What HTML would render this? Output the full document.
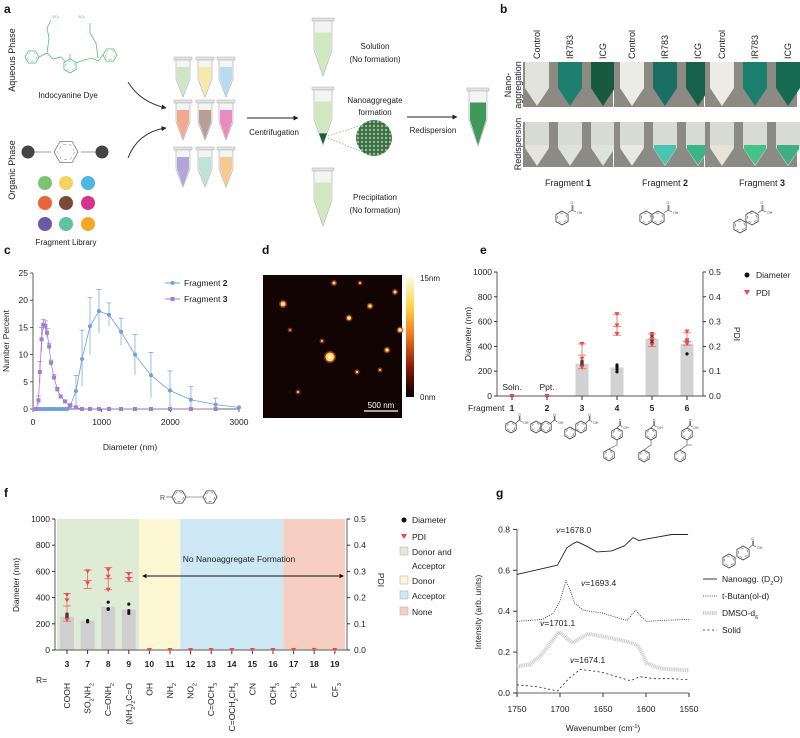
<!DOCTYPE html>
<html><head><meta charset="utf-8"><style>
html,body{margin:0;padding:0;background:#fff}
svg{display:block;font-family:"Liberation Sans",Arial,sans-serif}
</style></head><body>
<svg id="fig" xmlns="http://www.w3.org/2000/svg" width="800" height="738" viewBox="0 0 800 738">
<defs>
<marker id="ah" viewBox="0 0 10 10" refX="9" refY="5" markerWidth="5" markerHeight="5" orient="auto"><path d="M0,0L10,5L0,10z" fill="#222"/></marker>
<marker id="ahs" viewBox="0 0 10 10" refX="1" refY="5" markerWidth="5" markerHeight="5" orient="auto-start-reverse"><path d="M0,0L10,5L0,10z" fill="#111"/></marker>
<linearGradient id="cbar" x1="0" y1="0" x2="0" y2="1"><stop offset="0" stop-color="#fffbe0"/><stop offset="0.25" stop-color="#ffd24a"/><stop offset="0.5" stop-color="#e8741c"/><stop offset="0.75" stop-color="#8a1a08"/><stop offset="1" stop-color="#000"/></linearGradient>
<pattern id="hex" width="4" height="4" patternUnits="userSpaceOnUse"><rect width="4" height="4" fill="#3e6e48"/><circle cx="2" cy="2" r="1.2" fill="#8fbf92"/></pattern>
</defs>
<g id="panels"></g>
</svg>
<script>
// ---------- Panel c data ----------
const c2X=[20,50,80,110,140,170,200,230,260,290,320,350,380,410,440,470,500,539,626,714,830,961,1107,1282,1485,1718,1995,2300,2660,3000];
const c2Y=[0,0,0,0,0,0,0,0,0,0,0,0,0,0,0,0,0,0.5,3.3,9.2,15.2,18,17.3,14.2,10,6.2,3.4,1.7,0.8,0.3];
const c2Hi=[0,0,0,0,0,0,0,0,0,0,0,0,0,0,0,0,0,0.8,6.2,14.5,20.5,22,19.5,16.7,13.7,10.4,7,4.1,2,0.3];
const c2Lo=[0,0,0,0,0,0,0,0,0,0,0,0,0,0,0,0,0,0.2,0.4,4.2,10,14,15.2,11.7,6.3,2,0,0,0,0.3];
const c3X=[20,45,80,100,125,150,180,205,235,262,306,354,403,466,539,626,714,830,961,1107,1282,1485,1718,1995,2300,2660];
const c3Y=[0,0,1.6,6.8,12.8,15.5,15.3,14,11.5,8.5,5.8,3.6,2.3,1.4,0.7,0.3,0,0,0,0,0,0,0,0,0,0];
const c3Err=[0,0,0.8,1.9,2.2,1,0.9,0.8,0.6,0.5,0.5,0.4,0.3,0.2,0.2,0.1,0,0,0,0,0,0,0,0,0,0];
const cXTicks=[0,1000,2000,3000];
const cYTicks=[0,5,10,15,20,25];
// ---------- Panel e data ----------
const eFrag=["1","2","3","4","5","6"];
const eDiam=[0,0,260,230,460,420];
const eDiamPts=[[0],[0],[245,260,270,280],[195,215,235,250],[430,450,470,490],[340,430,450]];
const ePdiMean=[0,0,0.165,0.28,0.23,0.22];
const ePdiHi=[0,0,0.21,0.33,0.25,0.255];
const ePdiLo=[0,0,0.11,0.245,0.2,0.205];
const ePdiPts=[[0],[0],[0.21,0.15,0.115],[0.33,0.285,0.25],[0.25,0.23,0.205],[0.26,0.225,0.21]];
const eLeftTicks=[0,200,400,600,800,1000];
const eRightTicks=["0.0","0.1","0.2","0.3","0.4","0.5"];
// ---------- Panel f data ----------
const fNum=["3","7","8","9","10","11","12","13","14","15","16","17","18","19"];
const fR=["COOH","SO₂NH₂","C=ONH₂","(NH₂)₂C=O","OH","NH₂","NO₂","C=OCH₃","C=OCH₂CH₃","CN","OCH₃","CH₃","F","CF₃"];
const fDiam=[255,225,330,310,0,0,0,0,0,0,0,0,0,0];
const fDiamPts=[[240,255,265,275],[215,225],[310,315,365],[280,300,350],[],[],[],[],[],[],[],[],[],[]];
const fPdiMean=[0.168,0.265,0.272,0.277,0,0,0,0,0,0,0,0,0,0];
const fPdiHi=[0.215,0.305,0.315,0.295,0,0,0,0,0,0,0,0,0,0];
const fPdiLo=[0.11,0.235,0.23,0.262,0,0,0,0,0,0,0,0,0,0];
const fPdiPts=[[0.21,0.19,0.115],[0.3,0.255],[0.305,0.28,0.23],[0.29,0.27],[0],[0],[0],[0],[0],[0],[0],[0],[0],[0]];
const fRegionStart=[-0.5,3.5,5.5,10.5];
const fRegionEnd=[3.5,5.5,10.5,13.5];
const fRegionColor=["#deecd6","#fdf7d4","#cde8f4","#f6cfc2"];
const fLeftTicks=[0,200,400,600,800,1000];
const fRightTicks=["0.0","0.1","0.2","0.3","0.4","0.5"];
// ---------- Panel g data ----------
const gNanoW=[1750,1703,1692,1685,1680,1670,1657,1640,1625,1615,1608,1603,1590,1570,1551];
const gNanoI=[0.58,0.625,0.71,0.73,0.74,0.72,0.69,0.695,0.72,0.76,0.745,0.75,0.76,0.775,0.775];
const gButW=[1750,1720,1708,1700,1693,1688,1683,1673,1650,1635,1622,1612,1605,1599,1580,1550];
const gButI=[0.35,0.36,0.39,0.45,0.55,0.5,0.44,0.405,0.39,0.37,0.355,0.405,0.37,0.35,0.355,0.36];
const gDmsoW=[1750,1735,1723,1710,1701,1693,1685,1676,1667,1655,1642,1625,1610,1604,1599,1584,1550];
const gDmsoI=[0.13,0.14,0.18,0.25,0.30,0.27,0.245,0.27,0.29,0.28,0.27,0.255,0.235,0.19,0.145,0.12,0.11];
const gSolidW=[1750,1725,1703,1690,1677,1665,1650,1630,1618,1607,1590,1570,1550];
const gSolidI=[0.04,0.03,0.01,0.07,0.115,0.11,0.1,0.075,0.06,0.08,0.07,0.07,0.065];
const gXTicks=[1750,1700,1650,1600,1550];
const gYTicks=["0.0","0.2","0.4","0.6","0.8"];

const NS="http://www.w3.org/2000/svg";
const root=document.getElementById('panels');
function mk(tag,attrs,parent){const e=document.createElementNS(NS,tag);for(const k in attrs)e.setAttribute(k,attrs[k]);(parent||root).appendChild(e);return e;}
function tx(x,y,s,attrs,parent){const e=mk('text',Object.assign({x:x,y:y,'font-size':9,fill:'#222'},attrs||{}),parent);e.textContent=s;return e;}
function tspanSub(el,parts){el.textContent='';parts.forEach(p=>{const t=document.createElementNS(NS,'tspan');t.textContent=p[0];if(p[1]){t.setAttribute('font-size','6');t.setAttribute('dy','2');}else if(el._sub){t.setAttribute('dy','-2');}el._sub=!!p[1];el.appendChild(t);});}
function hexPath(cx,cy,r,rot){let d='';for(let i=0;i<6;i++){const a=(rot||0)+Math.PI/3*i;d+=(i?'L':'M')+(cx+r*Math.cos(a)).toFixed(1)+','+(cy+r*Math.sin(a)).toFixed(1);}return d+'Z';}
function ring(g,cx,cy,r,col,rot){mk('path',{d:hexPath(cx,cy,r,rot===undefined?Math.PI/6:rot),fill:'none',stroke:col||'#444','stroke-width':0.8},g);mk('path',{d:hexPath(cx,cy,r*0.72,rot===undefined?Math.PI/6:rot),fill:'none',stroke:col||'#444','stroke-width':0.5,'stroke-dasharray':'3 3'},g);}
function cooh(g,x,y,s){s=s||1;mk('path',{d:`M${x},${y}l${4*s},-3 M${x+4*s},${y-3}v${-5*s} M${x+5*s},${y-3}v${-5*s} M${x+4*s},${y-3}l${4*s},2`,stroke:'#444','stroke-width':0.6,fill:'none'},g);tx(x+9*s,y+1,'OH',{'font-size':3.5,fill:'#444'},g);tx(x+2.5*s,y-9*s,'O',{'font-size':3.5,fill:'#444'},g);}
function label(x,y,s,name){const t=tx(x,y,s,{'font-size':12,'font-weight':'bold',fill:'#111'});}

// ---------- Panel labels ----------
label(4,13,'a','panel-a-label');label(500,13,'b','panel-b-label');label(4,254,'c','panel-c-label');
label(262,254,'d','panel-d-label');label(480,254,'e','panel-e-label');label(4,497,'f','panel-f-label');label(496,497,'g','panel-g-label');

// ---------- Panel a ----------
(function(){
const g=mk('g',{});
let t=tx(0,0,'Aqueous Phase',{'font-size':9,'text-anchor':'middle',transform:'translate(15,60) rotate(-90)'},g);
t=tx(0,0,'Organic Phase',{'font-size':9,'text-anchor':'middle',transform:'translate(15,170) rotate(-90)'},g);
// dye
const gc='#5fb887';
const dye=mk('g',{},g);
ring(dye,32,57,7,gc,0);ring(dye,110,55,7,gc,0);ring(dye,70,66,7,gc,Math.PI/6);
mk('path',{d:'M39,57 l8,-4 l6,6 l8,-2 l4,4 M76,63 l8,-3 l8,-2 l6,3 l5,-6 M47,53 l2,-15 l-2,-10 l4,-8 M98,58 l-2,-15 l-6,-10 l0,-10 M70,59v-5',stroke:gc,'stroke-width':0.8,fill:'none'},dye);
tx(52,18,'SO₃',{'font-size':4,fill:gc},dye);tx(78,18,'SO₃',{'font-size':4,fill:gc},dye);
t=tx(68,98,'Indocyanine Dye',{'font-size':8,'text-anchor':'middle'},g);
// fragment
mk('line',{x1:28,y1:152,x2:102,y2:152,stroke:'#777','stroke-width':0.8},g);
mk('rect',{x:51,y:140,width:30,height:24,fill:'#fff'},g);ring(g,66,152,12,'#777',0);
mk('circle',{cx:28,cy:152,r:6.5,fill:'#444'},g);mk('circle',{cx:102,cy:152,r:6.5,fill:'#444'},g);
const dc=[['#7cc474','#f4d35e','#4cb8df'],['#e8643c','#7b4a36','#d6338a'],['#6a5aa8','#5cc4a0','#f5a623']];
const dx=[45,66,88],dy=[183,203,224];
for(let r=0;r<3;r++)for(let c=0;c<3;c++){const e=mk('circle',{cx:dx[c],cy:dy[r],r:7,fill:dc[r][c]},g);}
tx(66,245,'Fragment Library',{'font-size':8,'text-anchor':'middle'},g);
// curved arrows
mk('path',{d:'M128,82 Q140,102 166,108',stroke:'#333','stroke-width':1,fill:'none','marker-end':'url(#ah)'},g);
mk('path',{d:'M128,158 Q138,132 166,128',stroke:'#333','stroke-width':1,fill:'none','marker-end':'url(#ah)'},g);
function tube(x,y,w,h,col,pellet,name){const tg=mk('g',{},g);
mk('rect',{x:x-w/2-2,y:y,width:w+4,height:3,fill:'#e4e4e4',stroke:'#aaa','stroke-width':0.5},tg);
mk('path',{d:`M${x-w/2},${y+3}V${y+h*0.55}L${x},${y+h}L${x+w/2},${y+h*0.55}V${y+3}Z`,fill:'#f4f4f4',stroke:'#aaa','stroke-width':0.6},tg);
mk('path',{d:`M${x-w/2+1},${y+h*0.25}V${y+h*0.55}L${x},${y+h-1}L${x+w/2-1},${y+h*0.55}V${y+h*0.25}Z`,fill:col},tg);
if(pellet)mk('path',{d:`M${x-w*0.22},${y+h*0.8}L${x},${y+h-1}L${x+w*0.22},${y+h*0.8}Z`,fill:pellet},tg);}
const tcol=[['#cfe6c4','#f6eaa8','#b7dcef'],['#f3a890','#b5a097','#e88cc0'],['#b3a5dc','#bfe3d6','#f8c98e']];
const tx3=[183,205,226],ty3=[57,100,147];
for(let r=0;r<3;r++)for(let c=0;c<3;c++)tube(tx3[c],ty3[r],14,40,tcol[r][c],null,'library-tube');
mk('line',{x1:247,y1:118,x2:298,y2:118,stroke:'#222','stroke-width':1,'marker-end':'url(#ah)'},g);
tx(274,135,'Centrifugation',{'font-size':8,'text-anchor':'middle'},g);
tube(323,18,18,58,'#cfe8c0',null,'solution-tube');tube(323,87,18,58,'#cfe8c0','#1d5a44','nanoaggregate-tube');tube(323,168,18,58,'#cfe8c0',null,'precipitation-tube');
tx(375,49,'Solution',{'font-size':8,'text-anchor':'middle'},g);tx(375,62,'(No formation)',{'font-size':8,'text-anchor':'middle'},g);
tx(375,103,'Nanoaggregate',{'font-size':8,'text-anchor':'middle'},g);tx(375,115,'formation',{'font-size':8,'text-anchor':'middle'},g);
tx(375,200,'Precipitation',{'font-size':8,'text-anchor':'middle'},g);tx(375,213,'(No formation)',{'font-size':8,'text-anchor':'middle'},g);
mk('path',{d:'M328,136 L362,125 M328,138 L362,152',stroke:'#5a9a5a','stroke-width':0.6,'stroke-dasharray':'1.5 1.5',fill:'none'},g);
const ci=mk('circle',{cx:374,cy:138,r:18,fill:'url(#hex)'},g);
mk('line',{x1:407,y1:117,x2:457,y2:117,stroke:'#222','stroke-width':1,'marker-end':'url(#ah)'},g);
tx(433,133,'Redispersion',{'font-size':8,'text-anchor':'middle'},g);
tube(478,88,18,58,'#3f9a5a',null,'redispersed-tube');
})();

// ---------- Panel b ----------
(function(){
const g=mk('g',{});
const cols=['Control','IR783','ICG'];const cx=[[537,570,603],[632,665,698],[722,755,788]];
for(let gi=0;gi<3;gi++)for(let k=0;k<3;k++){const t=tx(0,0,cols[k],{'font-size':9,transform:`translate(${cx[gi][k]+3},59) rotate(-90)`},g);}
tx(0,0,'Nano-',{'font-size':9,'text-anchor':'middle',transform:'translate(511,85) rotate(-90)'},g);
tx(0,0,'aggregation',{'font-size':9,'text-anchor':'middle',transform:'translate(521,85) rotate(-90)'},g);
tx(0,0,'Redispersion',{'font-size':9,'text-anchor':'middle',transform:'translate(521,144) rotate(-90)'},g);
const top=[['#e2e2dc','#1e7f6e','#185a40'],['#ecece6','#1a6e62','#17604a'],['#ecebe6','#1a7f6c','#176a52']];
const bot=[[['#e4e4dc','#dfe2d8','#dde3d6']],[['#e8e8e2','#48c4b0','#3ab58a']],[['#e8e2da','#44c28a','#40ae84']]];
const gx=[523,614,705],gw=[90,90,92];
for(let gi=0;gi<3;gi++){
 mk('rect',{x:gx[gi],y:62,width:gw[gi],height:45,fill:'#8c8a82'},g);
 mk('rect',{x:gx[gi],y:122,width:gw[gi],height:45,fill:'#8c8a84'},g);
 for(let k=0;k<3;k++){const x=cx[gi][k];
  mk('path',{d:`M${x-12},62V88L${x},106L${x+12},88V62Z`,fill:top[gi][k]},g);
  mk('path',{d:`M${x-12},122V148L${x},166L${x+12},148V122Z`,fill:'#d8dbd4'},g);
  mk('path',{d:`M${x-11},145V149L${x},165L${x+11},149V145Z`,fill:bot[gi][0][k]},g);}
}
const fl=[568,665,762];
for(let i=0;i<3;i++){const t=tx(fl[i],186,'Fragment ',{'font-size':9,'text-anchor':'middle'},g);const b=document.createElementNS(NS,'tspan');b.setAttribute('font-weight','bold');b.textContent=String(i+1);t.appendChild(b);}
ring(g,562,218,7,'#444');cooh(g,568,213);
ring(g,646,218,7,'#444');ring(g,658,218,7,'#444');cooh(g,664,213);
ring(g,740,226,7,'#444');ring(g,752,218,7,'#444');cooh(g,758,213);
})();

// ---------- Panel c ----------
(function(){
const g=mk('g',{});
const xc=v=>33+v/3000*206, yc=v=>409-v*5.44;
mk('line',{x1:xc(0),y1:yc(0),x2:xc(3000),y2:yc(0),stroke:'#333','stroke-width':0.8},g);
mk('line',{x1:xc(0),y1:yc(0),x2:xc(0),y2:yc(25),stroke:'#333','stroke-width':0.8},g);
cXTicks.forEach(v=>{mk('line',{x1:xc(v),y1:409,x2:xc(v),y2:412,stroke:'#333','stroke-width':0.8},g);tx(xc(v),425,String(v),{'font-size':8.5,'text-anchor':'middle'},g);});
cYTicks.forEach(v=>{mk('line',{x1:30,y1:yc(v),x2:33,y2:yc(v),stroke:'#333','stroke-width':0.8},g);tx(28,yc(v)+3,String(v),{'font-size':8.5,'text-anchor':'end'},g);});
tx(130,450,'Diameter (nm)',{'font-size':8.5,'text-anchor':'middle'},g);
tx(0,0,'Number Percent',{'font-size':8.5,'text-anchor':'middle',transform:'translate(9,341) rotate(-90)'},g);
function series(X,Y,hi,lo,col,shape,name){
 const sg=mk('g',{},g);
 mk('polyline',{points:X.map((x,i)=>xc(x)+','+yc(Y[i])).join(' '),fill:'none',stroke:col,'stroke-width':0.8},sg);
 X.forEach((x,i)=>{const H=hi[i],L=lo[i];if(H-L>0.2){mk('line',{x1:xc(x),y1:yc(H),x2:xc(x),y2:yc(L),stroke:col,'stroke-width':0.7},sg);mk('line',{x1:xc(x)-2.5,y1:yc(H),x2:xc(x)+2.5,y2:yc(H),stroke:col,'stroke-width':0.7},sg);}
  let m;if(shape==='c')m=mk('circle',{cx:xc(x),cy:yc(Y[i]),r:2,fill:col},sg);else m=mk('rect',{x:xc(x)-2,y:yc(Y[i])-2,width:4,height:4,fill:col},sg);
  });
}
series(c2X,c2Y,c2Hi,c2Lo,'#6f9fdc','c','fragment-2-series');
series(c3X,c3Y,c3Y.map((v,i)=>v+c3Err[i]),c3Y.map((v,i)=>v-c3Err[i]),'#a07fd4','s','fragment-3-series');
const lg=mk('g',{},g);
mk('line',{x1:165,y1:283,x2:180,y2:283,stroke:'#6f9fdc'},lg);mk('circle',{cx:172.5,cy:283,r:2,fill:'#6f9fdc'},lg);
mk('line',{x1:165,y1:299,x2:180,y2:299,stroke:'#a07fd4'},lg);mk('rect',{x:170.5,y:297,width:4,height:4,fill:'#a07fd4'},lg);
let t=tx(184,286,'Fragment ',{'font-size':8.5},lg);let b=document.createElementNS(NS,'tspan');b.setAttribute('font-weight','bold');b.textContent='2';t.appendChild(b);
t=tx(184,302,'Fragment ',{'font-size':8.5},lg);b=document.createElementNS(NS,'tspan');b.setAttribute('font-weight','bold');b.textContent='3';t.appendChild(b);
})();

// ---------- Panel d ----------
(function(){
const g=mk('g',{});
mk('rect',{x:263,y:275,width:139,height:143,fill:'#120402'},g);
const spots=[[283,304,2.5],[334,283,1.5],[330,357,4.5],[349,318,2],[370,306,1.8],[395,292,1.5],[387,350,1.8],[400,330,2],[322,341,1],[357,372,1.2],[298,392,1],[360,283,1],[290,330,0.8],[380,370,1]];
spots.forEach(s=>{mk('circle',{cx:s[0],cy:s[1],r:s[2]+1.5,fill:'#c0400c',opacity:0.7},g);mk('circle',{cx:s[0],cy:s[1],r:s[2],fill:'#ffd25a'},g);mk('circle',{cx:s[0],cy:s[1],r:s[2]*0.5,fill:'#fff8d8'},g);});
mk('line',{x1:364,y1:411,x2:398,y2:411,stroke:'#fff','stroke-width':1.2},g);
tx(381,408,'500 nm',{'font-size':8,fill:'#fff','text-anchor':'middle'},g);
const cb=mk('rect',{x:406,y:277,width:8,height:120,fill:'url(#cbar)'},g);
tx(420,281,'15nm',{'font-size':8},g);tx(420,400,'0nm',{'font-size':8},g);
})();

// ---------- Panel e ----------
(function(){
const g=mk('g',{});
const xe=i=>512+35*i, ye=d=>396-d*0.124, yp=p=>396-p*248;
eDiam.forEach((d,i)=>{const b=mk('rect',{x:xe(i)-6.5,y:ye(d),width:13,height:396-ye(d),fill:'#d2d2d2'},g);});
mk('line',{x1:497,y1:396,x2:703,y2:396,stroke:'#777','stroke-width':1.2},g);
mk('line',{x1:497,y1:272,x2:497,y2:396,stroke:'#333','stroke-width':0.8},g);
mk('line',{x1:703,y1:272,x2:703,y2:396,stroke:'#777','stroke-width':1.2},g);
eLeftTicks.forEach(v=>{mk('line',{x1:494,y1:ye(v),x2:497,y2:ye(v),stroke:'#333'},g);tx(492,ye(v)+3,String(v),{'font-size':8.5,'text-anchor':'end'},g);});
eRightTicks.forEach(v=>{mk('line',{x1:703,y1:yp(+v),x2:706,y2:yp(+v),stroke:'#333'},g);tx(709,yp(+v)+3,v,{'font-size':8.5},g);});
eFrag.forEach((f,i)=>{mk('line',{x1:xe(i),y1:396,x2:xe(i),y2:400,stroke:'#333'},g);tx(xe(i),411,f,{'font-size':8.5,'font-weight':'bold','text-anchor':'middle'},g);});
tx(468,411,'Fragment',{'font-size':8.5},g);
tx(0,0,'Diameter (nm)',{'font-size':8.5,'text-anchor':'middle',transform:'translate(471,334) rotate(-90)'},g);
tx(0,0,'PDI',{'font-size':8.5,'text-anchor':'middle',transform:'translate(734,334) rotate(90)'},g);
tx(512,390,'Soln.',{'font-size':8.5,'text-anchor':'middle'},g);tx(547,390,'Ppt.',{'font-size':8.5,'text-anchor':'middle'},g);
eDiamPts.forEach((a,i)=>a.forEach(d=>{const c=mk('circle',{cx:xe(i),cy:ye(d),r:1.6,fill:'#111'},g);}));
ePdiMean.forEach((m,i)=>{if(ePdiHi[i]>0){mk('line',{x1:xe(i),y1:yp(ePdiHi[i]),x2:xe(i),y2:yp(ePdiLo[i]),stroke:'#f06060','stroke-width':0.8},g);
 [ePdiHi[i],ePdiLo[i],m].forEach(v=>mk('line',{x1:xe(i)-4,y1:yp(v),x2:xe(i)+4,y2:yp(v),stroke:'#f06060','stroke-width':0.8},g));}});
ePdiPts.forEach((a,i)=>a.forEach(p=>{const y=yp(p),x=xe(i);const tr=mk('path',{d:`M${x-2.5},${y-2}L${x+2.5},${y-2}L${x},${y+2.2}Z`,fill:'#f04848'},g);}));
const lg=mk('g',{},g);
mk('circle',{cx:747,cy:275,r:2.5,fill:'#111'},lg);tx(756,278,'Diameter',{'font-size':8.5},lg);
mk('path',{d:'M744,290L750,290L747,295Z',fill:'#f04848'},lg);tx(756,296,'PDI',{'font-size':8.5},lg);
// molecules
const m=mk('g',{},g);
ring(m,511,427,6);cooh(m,516,423,0.8);
ring(m,536,427,6);ring(m,546,427,6);cooh(m,551,423,0.8);
ring(m,570,433,6);ring(m,581,427,6);cooh(m,586,423,0.8);
ring(m,617,434,6);ring(m,609,455,6);mk('path',{d:'M617,440l0,5l-8,4',stroke:'#444','stroke-width':0.6,fill:'none'},m);cooh(m,617,428,0.7);
ring(m,651,434,6);ring(m,644,456,6);mk('path',{d:'M651,440l0,5l-7,5',stroke:'#444','stroke-width':0.6,fill:'none'},m);cooh(m,651,428,0.7);
ring(m,687,434,6);ring(m,680,456,6);mk('path',{d:'M687,440l0,5l-7,5 M687,445l5,0',stroke:'#444','stroke-width':0.6,fill:'none'},m);cooh(m,687,428,0.7);
})();

// ---------- Panel f ----------
(function(){
const g=mk('g',{});
const xf=i=>67+i*20.6, yf=d=>650-d*0.131, yp=p=>650-p*262;
fRegionStart.forEach((s,i)=>{const e=Math.min(xf(fRegionEnd[i]),346);const r=mk('rect',{x:Math.max(xf(s),57),y:519,width:e-Math.max(xf(s),57),height:131,fill:fRegionColor[i]},g);});
fDiam.forEach((d,i)=>{if(d>0){const b=mk('rect',{x:xf(i)-7,y:yf(d),width:14,height:650-yf(d),fill:'#cfcfcf'},g);}});
mk('line',{x1:55,y1:650,x2:347,y2:650,stroke:'#777','stroke-width':1.2},g);
mk('line',{x1:55,y1:519,x2:55,y2:650,stroke:'#333','stroke-width':0.8},g);
mk('line',{x1:347,y1:519,x2:347,y2:650,stroke:'#777','stroke-width':1.2},g);
fLeftTicks.forEach(v=>{mk('line',{x1:52,y1:yf(v),x2:55,y2:yf(v),stroke:'#333'},g);tx(50,yf(v)+3,String(v),{'font-size':8.5,'text-anchor':'end'},g);});
fRightTicks.forEach(v=>{mk('line',{x1:347,y1:yp(+v),x2:350,y2:yp(+v),stroke:'#333'},g);tx(354,yp(+v)+3,v,{'font-size':8.5},g);});
tx(0,0,'Diameter (nm)',{'font-size':8.5,'text-anchor':'middle',transform:'translate(19,585) rotate(-90)'},g);
tx(0,0,'PDI',{'font-size':8.5,'text-anchor':'middle',transform:'translate(378,580) rotate(90)'},g);
fNum.forEach((n,i)=>{mk('line',{x1:xf(i),y1:650,x2:xf(i),y2:654,stroke:'#333'},g);tx(xf(i),667,n,{'font-size':8.5,'font-weight':'bold','text-anchor':'middle'},g);
 const t=tx(0,0,'',{'font-size':8.5,'text-anchor':'end',transform:`translate(${xf(i)+3},683) rotate(-90)`},g);
 const parts=fR[i].split(/([₂₃])/).filter(s=>s);t.textContent='';parts.forEach(p=>{const ts=document.createElementNS(NS,'tspan');if(p==='₂'||p==='₃'){ts.textContent=p==='₂'?'2':'3';ts.setAttribute('font-size','5.5');ts.setAttribute('baseline-shift','sub');}else ts.textContent=p;t.appendChild(ts);});
 });
tx(36,683,'R=',{'font-size':8.5},g);
fDiamPts.forEach((a,i)=>a.forEach(d=>{const c=mk('circle',{cx:xf(i),cy:yf(d),r:1.6,fill:'#111'},g);}));
fPdiMean.forEach((m,i)=>{if(fPdiHi[i]>0){mk('line',{x1:xf(i),y1:yp(fPdiHi[i]),x2:xf(i),y2:yp(fPdiLo[i]),stroke:'#f06060','stroke-width':0.8},g);
 [fPdiHi[i],fPdiLo[i],m].forEach(v=>mk('line',{x1:xf(i)-4,y1:yp(v),x2:xf(i)+4,y2:yp(v),stroke:'#f06060','stroke-width':0.8},g));}});
fPdiPts.forEach((a,i)=>a.forEach(p=>{const y=yp(p),x=xf(i);const tr=mk('path',{d:`M${x-2.5},${y-2}L${x+2.5},${y-2}L${x},${y+2.2}Z`,fill:'#f04848'},g);}));
const ar=mk('line',{x1:146,y1:576,x2:340,y2:576,stroke:'#111','stroke-width':0.9,'marker-start':'url(#ahs)','marker-end':'url(#ahs)'},g);
tx(239,562,'No Nanoaggregate Formation',{'font-size':8.5,'text-anchor':'middle'},g);
// molecule
tx(160,500,'R',{'font-size':7,fill:'#444'},g);mk('line',{x1:166,y1:497,x2:172,y2:497,stroke:'#444','stroke-width':0.6},g);
ring(g,179,497,7,'#444',0);ring(g,210,497,7,'#444',0);mk('line',{x1:186,y1:497,x2:203,y2:497,stroke:'#444','stroke-width':0.6},g);
const lg=mk('g',{},g);
mk('circle',{cx:404,cy:520,r:2.5,fill:'#111'},lg);tx(412,523,'Diameter',{'font-size':8.5},lg);
mk('path',{d:'M401,534L407,534L404,539Z',fill:'#f04848'},lg);tx(412,540,'PDI',{'font-size':8.5},lg);
const items=[['#deecd6','Donor and',554],['#fdf7d4','Donor',583],['#cde8f4','Acceptor',598],['#f6cfc2','None',614]];
items.forEach(it=>{mk('rect',{x:400,y:it[2]-7,width:8,height:8,fill:it[0],stroke:'#aaa','stroke-width':0.5},lg);tx(412,it[2]+1,it[1],{'font-size':8.5},lg);});
tx(412,569,'Acceptor',{'font-size':8.5},lg);
})();

// ---------- Panel g ----------
(function(){
const g=mk('g',{});
const xg=w=>517+(1750-w)*0.86, yg=v=>693-v*204.5;
mk('line',{x1:517,y1:693,x2:689,y2:693,stroke:'#333','stroke-width':0.8},g);
mk('line',{x1:517,y1:529,x2:517,y2:693,stroke:'#333','stroke-width':0.8},g);
gXTicks.forEach(v=>{mk('line',{x1:xg(v),y1:693,x2:xg(v),y2:697,stroke:'#333'},g);tx(xg(v),712,String(v),{'font-size':8.5,'text-anchor':'middle'},g);});
gYTicks.forEach(v=>{mk('line',{x1:513,y1:yg(+v),x2:517,y2:yg(+v),stroke:'#333'},g);tx(510,yg(+v)+3,v,{'font-size':8.5,'text-anchor':'end'},g);});
let t=tx(603,731,'Wavenumber (cm',{'font-size':8.5,'text-anchor':'middle'},g);let s=document.createElementNS(NS,'tspan');s.setAttribute('font-size','5.5');s.setAttribute('baseline-shift','super');s.textContent='-1';t.appendChild(s);s=document.createElementNS(NS,'tspan');s.textContent=')';t.appendChild(s);
tx(0,0,'Intensity (arb. units)',{'font-size':8.5,'text-anchor':'middle',transform:'translate(481,612) rotate(-90)'},g);
function curve(W,I,attrs,name){const p=mk('path',Object.assign({d:W.map((w,i)=>(i?'L':'M')+xg(w).toFixed(1)+','+yg(I[i]).toFixed(1)).join(''),fill:'none','stroke-linejoin':'round'},attrs),g);}
curve(gNanoW,gNanoI,{stroke:'#222','stroke-width':0.9},'nanoagg-curve');
curve(gButW,gButI,{stroke:'#222','stroke-width':0.8,'stroke-dasharray':'1 1.2'},'t-butanol-curve');
curve(gDmsoW,gDmsoI,{stroke:'#c8c8c8','stroke-width':4,'stroke-dasharray':'1 0.8'},'dmso-curve');
curve(gSolidW,gSolidI,{stroke:'#222','stroke-width':0.8,'stroke-dasharray':'2 2.5'},'solid-curve');
function nu(x,y,s){const t=tx(x,y,'',{'font-size':8.5},g);const a=document.createElementNS(NS,'tspan');a.setAttribute('font-style','italic');a.textContent='v';t.appendChild(a);const b=document.createElementNS(NS,'tspan');b.textContent='='+s;t.appendChild(b);}
nu(556,533,'1678.0');nu(581,586,'1693.4');nu(540,626,'1701.1');nu(570,663,'1674.1');
const lg=mk('g',{},g);
const L=[['Nanoagg. (D',{stroke:'#222','stroke-width':0.9},582],['t-Butan(ol-d)',{stroke:'#222','stroke-width':0.8,'stroke-dasharray':'1 1.2'},599],['DMSO-d',{stroke:'#c8c8c8','stroke-width':4,'stroke-dasharray':'1 0.8'},616],['Solid',{stroke:'#222','stroke-width':0.8,'stroke-dasharray':'2 2.5'},633]];
L.forEach((l,i)=>{mk('line',Object.assign({x1:703,y1:l[2]-3,x2:717,y2:l[2]-3},l[1]),lg);const tt=tx(722,l[2],l[0],{'font-size':8.5},lg);
 if(i===0){let a=document.createElementNS(NS,'tspan');a.setAttribute('font-size','5.5');a.setAttribute('baseline-shift','sub');a.textContent='2';tt.appendChild(a);a=document.createElementNS(NS,'tspan');a.textContent='O)';tt.appendChild(a);}
 if(i===2){let a=document.createElementNS(NS,'tspan');a.setAttribute('font-size','5.5');a.setAttribute('baseline-shift','sub');a.textContent='6';tt.appendChild(a);}});
ring(g,729,561,7,'#444');ring(g,743,553,7,'#444');cooh(g,749,548,0.9);
})();
</script>
</body></html>
